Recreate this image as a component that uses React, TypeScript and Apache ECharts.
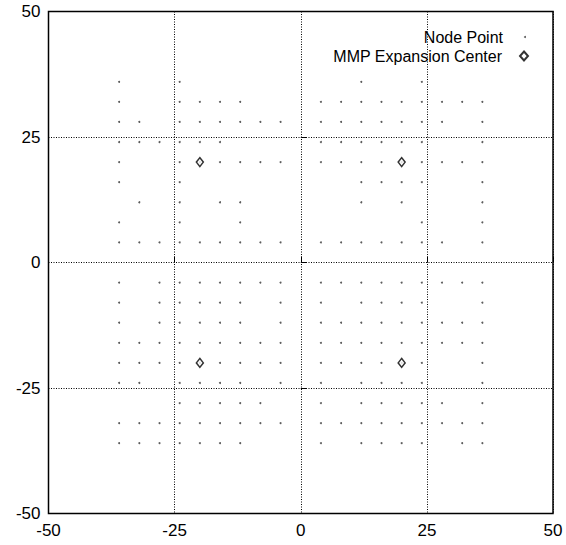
import React, { useEffect, useRef } from "react";
import * as echarts from "echarts";

// Axis range and tick step (tick labels: -50, -25, 0, 25, 50)
const axisMin = -50;
const axisMax = 50;
const axisStep = 25;

// Node points, per quadrant: [y, x values present in that row]
const topLeftRows: [number, number[]][] = [
  [36, [-36, -24]],
  [32, [-36, -24, -20, -16, -12]],
  [28, [-36, -32, -24, -20, -16, -12, -8, -4]],
  [24, [-36, -32, -28, -24, -20, -16]],
  [20, [-36, -24, -20, -16, -12, -8, -4]],
  [16, [-36, -24]],
  [12, [-32, -24, -16, -12]],
  [8, [-36, -24, -12]],
  [4, [-36, -32, -28, -24, -20, -16, -12, -8, -4]],
];
const topRightRows: [number, number[]][] = [
  [36, [12, 24]],
  [32, [4, 8, 12, 16, 20, 24, 28, 32, 36]],
  [28, [4, 8, 12, 16, 20, 24, 28, 36]],
  [24, [4, 8, 12, 16, 20, 24, 36]],
  [20, [4, 8, 12, 16, 20, 24, 28, 32, 36]],
  [16, [12, 16, 20, 24, 36]],
  [12, [12, 20, 36]],
  [8, [24, 36]],
  [4, [4, 8, 12, 16, 20, 24, 28, 36]],
];
const bottomLeftRows: [number, number[]][] = [
  [-4, [-36, -28, -24, -20, -16, -12, -8, -4]],
  [-8, [-36, -28, -24, -20, -16, -12, -4]],
  [-12, [-36, -28, -24, -20, -16, -12, -4]],
  [-16, [-36, -32, -28, -24, -20, -16, -12, -8, -4]],
  [-20, [-36, -32, -28, -24, -20, -16, -12, -8, -4]],
  [-24, [-36, -32, -24, -20, -16, -12, -4]],
  [-28, [-24, -20, -16, -12, -8]],
  [-32, [-36, -32, -28, -24, -20, -16, -12, -8, -4]],
  [-36, [-36, -32, -28, -24, -20, -16, -12]],
];
const bottomRightRows: [number, number[]][] = [
  [-4, [4, 8, 12, 16, 20, 24, 28, 32, 36]],
  [-8, [4, 12, 16, 20, 24, 36]],
  [-12, [4, 8, 12, 16, 20, 24, 28, 32, 36]],
  [-16, [4, 8, 12, 16, 20, 24, 28, 32, 36]],
  [-20, [4, 8, 12, 16, 20, 24, 36]],
  [-24, [4, 12, 16, 20, 24, 36]],
  [-28, [4, 12, 16, 20, 24, 28, 36]],
  [-32, [4, 8, 12, 16, 20, 24, 28, 32, 36]],
  [-36, [4, 12, 16, 20, 24, 32, 36]],
];

// MMP expansion centers
const expansionCenters: [number, number][] = [
  [-20, 20],
  [20, 20],
  [-20, -20],
  [20, -20],
];

const nodeSeriesName = "Node Point";
const centerSeriesName = "MMP Expansion Center";

function flattenRows(rows: [number, number[]][]): [number, number][] {
  const out: [number, number][] = [];
  rows.forEach(([y, xs]) => xs.forEach((x) => out.push([x, y])));
  return out;
}

export default function App() {
  const ref = useRef<HTMLDivElement>(null);

  useEffect(() => {
    if (!ref.current) return;
    const chart = echarts.init(ref.current, undefined, { renderer: "svg" });
    const nodeData = [
      ...flattenRows(topLeftRows),
      ...flattenRows(topRightRows),
      ...flattenRows(bottomLeftRows),
      ...flattenRows(bottomRightRows),
    ];
    const font = "'Liberation Sans', Arial, Helvetica, sans-serif";
    const axisCommon = {
      type: "value" as const,
      min: axisMin,
      max: axisMax,
      interval: axisStep,
      axisLine: { show: false },
      axisTick: { show: true, inside: true, length: 6, lineStyle: { color: "#000", width: 1 } },
      axisLabel: { color: "#000", fontSize: 17, fontFamily: font, margin: 8 },
      splitLine: { show: true, lineStyle: { color: "#000", width: 1, type: [1, 1.5] } },
    };
    const legendText = (padRight: number) => ({
      color: "#000",
      fontSize: 16,
      lineHeight: 16,
      fontFamily: font,
      padding: [0, padRight, 0, 0],
    });
    chart.setOption({
      animation: false,
      backgroundColor: "#fff",
      textStyle: { fontFamily: font },
      grid: {
        left: 48.5,
        right: 13,
        top: 11.5,
        bottom: 31.5,
        show: true,
        borderColor: "#000",
        borderWidth: 1.5,
        backgroundColor: "transparent",
      },
      xAxis: { ...axisCommon },
      yAxis: { ...axisCommon },
      legend: [
        {
          data: [nodeSeriesName],
          orient: "vertical",
          align: "right",
          right: 40,
          top: 29,
          padding: 0,
          itemWidth: 2,
          itemHeight: 2,
          icon: "circle",
          selectedMode: false,
          textStyle: legendText(16),
        },
        {
          data: [centerSeriesName],
          orient: "vertical",
          align: "right",
          right: 37,
          top: 48,
          padding: 0,
          itemWidth: 8,
          itemHeight: 9,
          icon: "diamond",
          selectedMode: false,
          textStyle: legendText(13),
        },
      ],
      series: [
        {
          type: "scatter",
          name: nodeSeriesName,
          data: nodeData,
          symbol: "circle",
          symbolSize: 2,
          itemStyle: { color: "#333" },
          silent: true,
        },
        {
          type: "scatter",
          name: centerSeriesName,
          data: expansionCenters,
          symbol: "diamond",
          symbolSize: [7, 9],
          itemStyle: { color: "#fff", borderColor: "#000", borderWidth: 1.5 },
          silent: true,
        },
      ],
    });
    return () => chart.dispose();
  }, []);

  return (
    <div
      ref={ref}
      style={{ position: "fixed", left: 0, top: 0, width: 566, height: 545 }}
    />
  );
}
